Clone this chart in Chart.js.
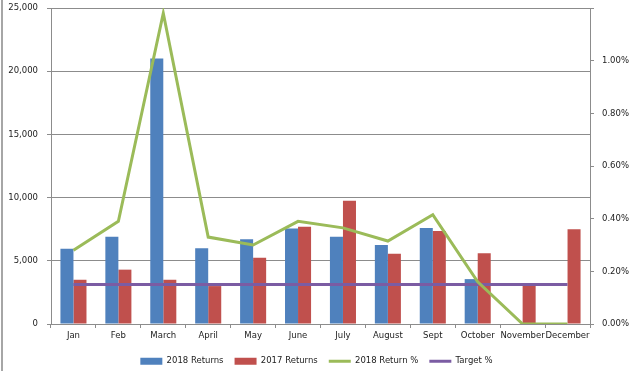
<!DOCTYPE html>
<html>
<head>
<meta charset="utf-8">
<script src="https://cdn.jsdelivr.net/npm/chart.js@4"></script>
<style>
  html, body { margin: 0; padding: 0; background: #fff; }
  #wrap { position: relative; width: 633px; height: 371px; }
  #frame { position: absolute; left: 1px; top: 0; width: 2px; height: 371px; background: #a6a6a6; }
</style>
</head>
<body>
<div id="wrap">
  <canvas id="returnsChart" width="633" height="371"></canvas>
  <div id="frame"></div>
</div>
<script>
// Chart data
const months = ['Jan', 'Feb', 'March', 'April', 'May', 'June', 'July', 'August', 'Sept', 'October', 'November', 'December'];
const returns2018 = [5950, 6900, 21000, 6000, 6700, 7550, 6900, 6250, 7600, 3550, 0, 0];
const returns2017 = [3500, 4300, 3500, 3000, 5250, 7700, 9750, 5550, 7350, 5600, 3100, 7500];
const returnPct2018 = [0.28, 0.39, 1.18, 0.33, 0.30, 0.39, 0.365, 0.315, 0.415, 0.16, 0, 0];
const targetPct = [0.15, 0.15, 0.15, 0.15, 0.15, 0.15, 0.15, 0.15, 0.15, 0.15, 0.15, 0.15];

const gridColor = '#8c8c8c';
const textColor = '#222';
const font = { family: 'DejaVu Sans', size: 8.5 };

// legend markers: boxes for bars, short lines for lines
const markerStyle = ['rect', 'rect', 'line', 'line'];

// fixed axis sizes so the plot area lands where the original one is
function fixVertical(width) {
    return scale => {
        scale.width = width;
        scale.paddingTop = 0;
        scale.paddingBottom = 0;
    };
}

new Chart(document.getElementById('returnsChart'), {
    data: {
        labels: months,
        datasets: [
            {
                type: 'bar',
                label: '2018 Returns',
                data: returns2018,
                backgroundColor: '#4F81BD',
                yAxisID: 'y',
                order: 2,
                categoryPercentage: 0.58,
                barPercentage: 1.0
            },
            {
                type: 'bar',
                label: '2017 Returns',
                data: returns2017,
                backgroundColor: '#C0504D',
                yAxisID: 'y',
                order: 2,
                categoryPercentage: 0.58,
                barPercentage: 1.0
            },
            {
                type: 'line',
                label: '2018 Return %',
                data: returnPct2018,
                borderColor: '#9BBB59',
                backgroundColor: '#9BBB59',
                borderWidth: 3,
                pointRadius: 0,
                tension: 0,
                yAxisID: 'y1',
                order: 0
            },
            {
                type: 'line',
                label: 'Target %',
                data: targetPct,
                borderColor: '#7B5CA3',
                backgroundColor: '#7B5CA3',
                borderWidth: 3,
                pointRadius: 0,
                tension: 0,
                yAxisID: 'y1',
                order: 1
            }
        ]
    },
    options: {
        responsive: false,
        animation: false,
        layout: { padding: { top: 8, left: 0, right: 0, bottom: 0 } },
        plugins: {
            tooltip: { enabled: false },
            legend: {
                position: 'bottom',
                maxHeight: 25,
                labels: {
                    font: font,
                    color: textColor,
                    usePointStyle: true,
                    pointStyleWidth: 22,
                    boxHeight: 7,
                    padding: 11,
                    sort: (a, b) => a.datasetIndex - b.datasetIndex,
                    generateLabels(chart) {
                        const items = Chart.defaults.plugins.legend.labels.generateLabels(chart);
                        items.forEach(it => {
                            it.pointStyle = markerStyle[it.datasetIndex];
                            if (it.pointStyle === 'rect') it.lineWidth = 0;
                            else it.lineWidth = 3;
                        });
                        return items;
                    }
                }
            }
        },
        scales: {
            x: {
                grid: { offset: true, drawOnChartArea: false, drawTicks: true, tickLength: 4, color: gridColor },
                border: { color: gridColor },
                ticks: { font: font, color: textColor, maxRotation: 0, autoSkip: false, padding: 3 },
                afterFit(scale) { scale.height = 22; }
            },
            y: {
                position: 'left',
                min: 0,
                max: 25000,
                ticks: {
                    stepSize: 5000,
                    font: font,
                    color: textColor,
                    padding: 9,
                    callback: v => v.toLocaleString('en-US')
                },
                grid: { color: gridColor, tickLength: 4 },
                border: { color: gridColor },
                afterFit: fixVertical(51)
            },
            y1: {
                position: 'right',
                min: 0,
                max: 1.2,
                ticks: {
                    stepSize: 0.2,
                    font: font,
                    color: textColor,
                    padding: 8,
                    callback: v => v > 1.1 ? '' : v.toFixed(2) + '%'
                },
                grid: { drawOnChartArea: false, color: gridColor, tickLength: 4 },
                border: { color: gridColor },
                afterFit: fixVertical(43)
            }
        }
    }
});
</script>
</body>
</html>
